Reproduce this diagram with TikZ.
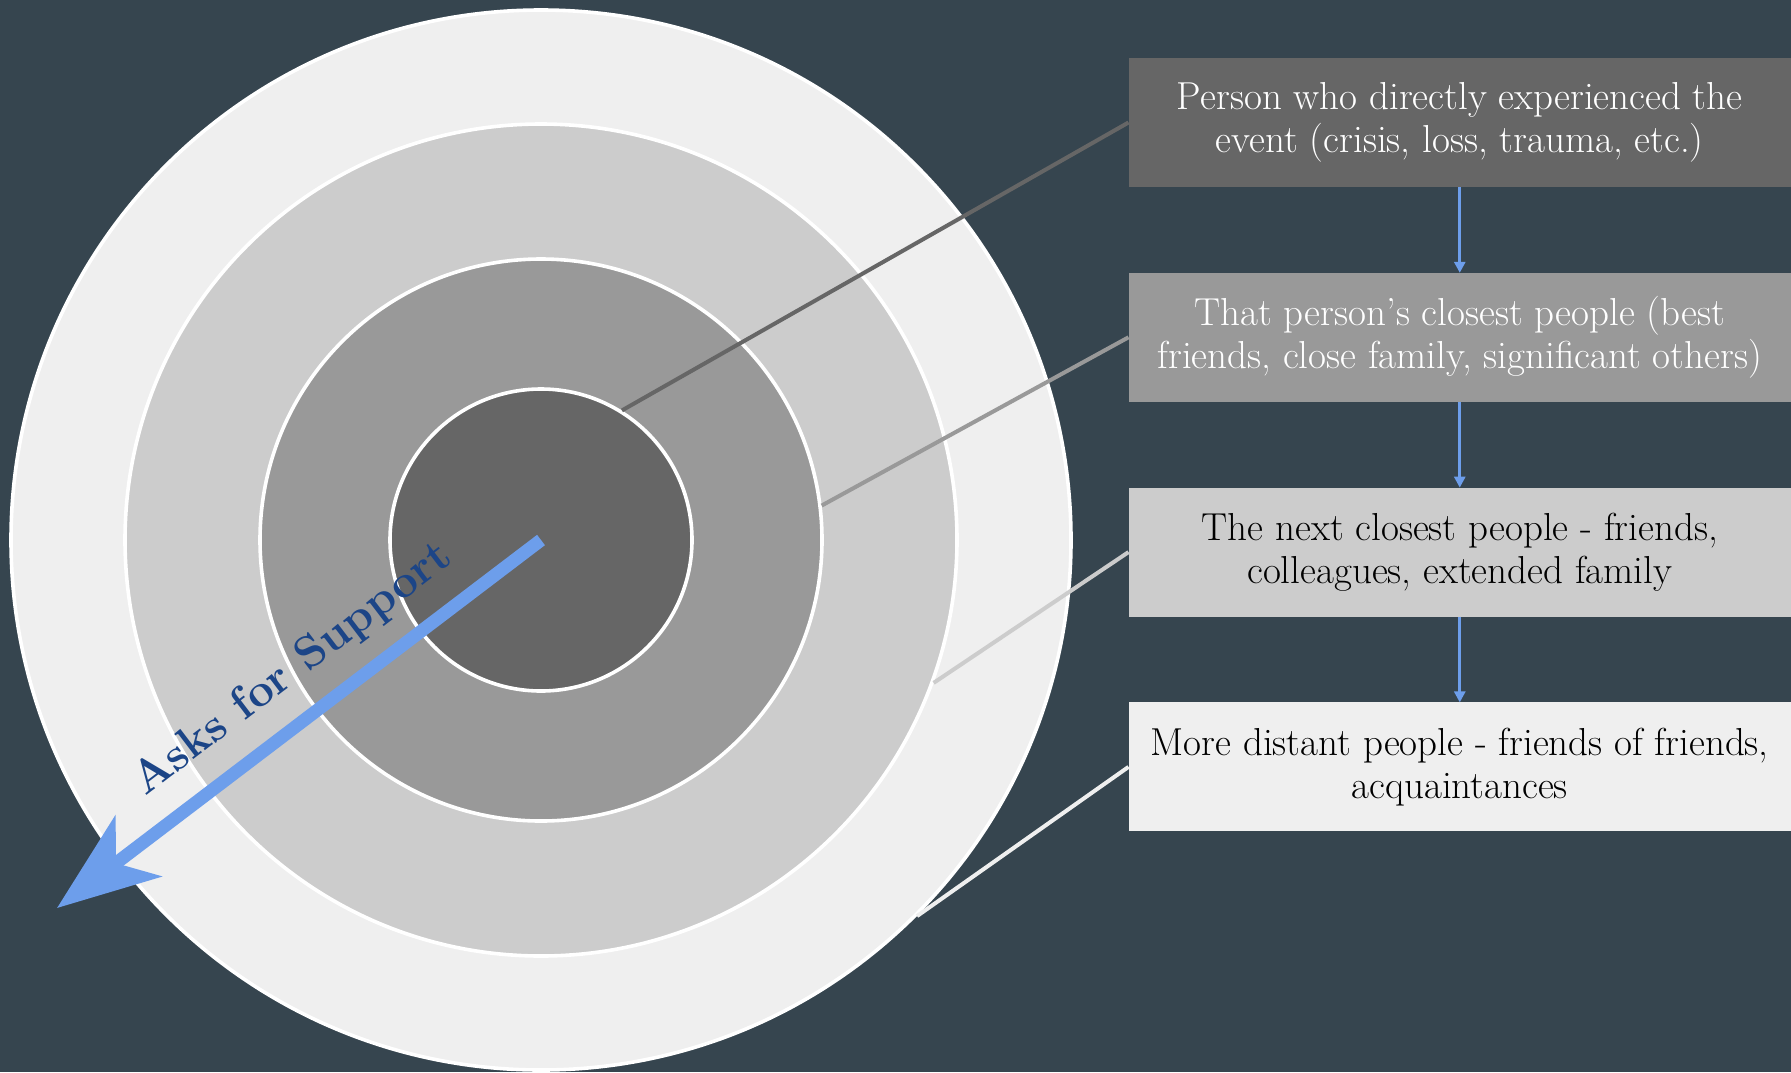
\documentclass[tikz,border=0pt]{standalone}
\usepackage{fontspec}
\usepackage{tikz}
\usetikzlibrary{arrows.meta,positioning}
\definecolor{slate}{HTML}{36454F}
\definecolor{gA}{HTML}{666666}
\definecolor{gB}{HTML}{999999}
\definecolor{gC}{HTML}{CCCCCC}
\definecolor{gE}{HTML}{EFEFEF}
\definecolor{askblue}{HTML}{6D9EEB}
\definecolor{askdark}{HTML}{1C4587}

\begin{document}
\begin{tikzpicture}[
  x=0.5pt,y=-0.5pt,
  node distance=42.9pt,
  ring/.style={circle,draw=white,line width=1.8pt,inner sep=0pt},
  box/.style={minimum width=331.25pt,minimum height=64.5pt,inner sep=0pt,
              outer sep=0pt,align=center,font=\fontsize{19.5}{21.7}\selectfont},
  lead/.style={line width=2pt},
  ar/.style={-{Triangle[length=5.5pt,width=5.5pt]},line width=1.5pt,askblue}
]
\fill[slate] (0,0) rectangle (1791,1072);
\useasboundingbox (0,0) rectangle (1791,1072);
\node[ring,fill=gE,minimum size=530pt] (ringfar) at (541,540) {};
\node[ring,fill=gC,minimum size=416pt] (ringnext) at (541,540) {};
\node[ring,fill=gB,minimum size=281pt] (ringclose) at (541,540) {};
\node[ring,fill=gA,minimum size=151pt] (ringcore) at (541,540) {};
\node[box,fill=gA,text=white] (boxcore) at (1459.75,122.5)
      {Person who directly experienced the\\ event (crisis, loss, trauma, etc.)};
\node[box,fill=gB,text=white,below=of boxcore] (boxclose)
      {That person’s closest people (best\\ friends, close family, significant others)};
\node[box,fill=gC,text=black,below=of boxclose] (boxnext)
      {The next closest people - friends,\\ colleagues, extended family};
\node[box,fill=gE,text=black,below=of boxnext] (boxfar)
      {More distant people - friends of friends,\\ acquaintances};
\draw[lead,gA] (boxcore.west)--(ringcore.58);
\draw[lead,gB] (boxclose.west)--(ringclose.7);
\draw[lead,gC] (boxnext.west)--(ringnext.-20);
\draw[lead,gE] (boxfar.west)--(ringfar.-45);
\draw[ar] (boxcore)--(boxclose); \draw[ar] (boxclose)--(boxnext);
\draw[ar] (boxnext)--(boxfar);
\coordinate (asktip) at (57,908);
\draw[line width=6.5pt,askblue,-{Stealth[length=51pt,width=38pt,inset=14pt]}]
      (ringcore.center)--(asktip);
\node[rotate=37.25,text=askdark,font=\bfseries\fontsize{23}{23}\selectfont]
      (asklabel) at (293,670) {Asks for Support};
\end{tikzpicture}
\end{document}
